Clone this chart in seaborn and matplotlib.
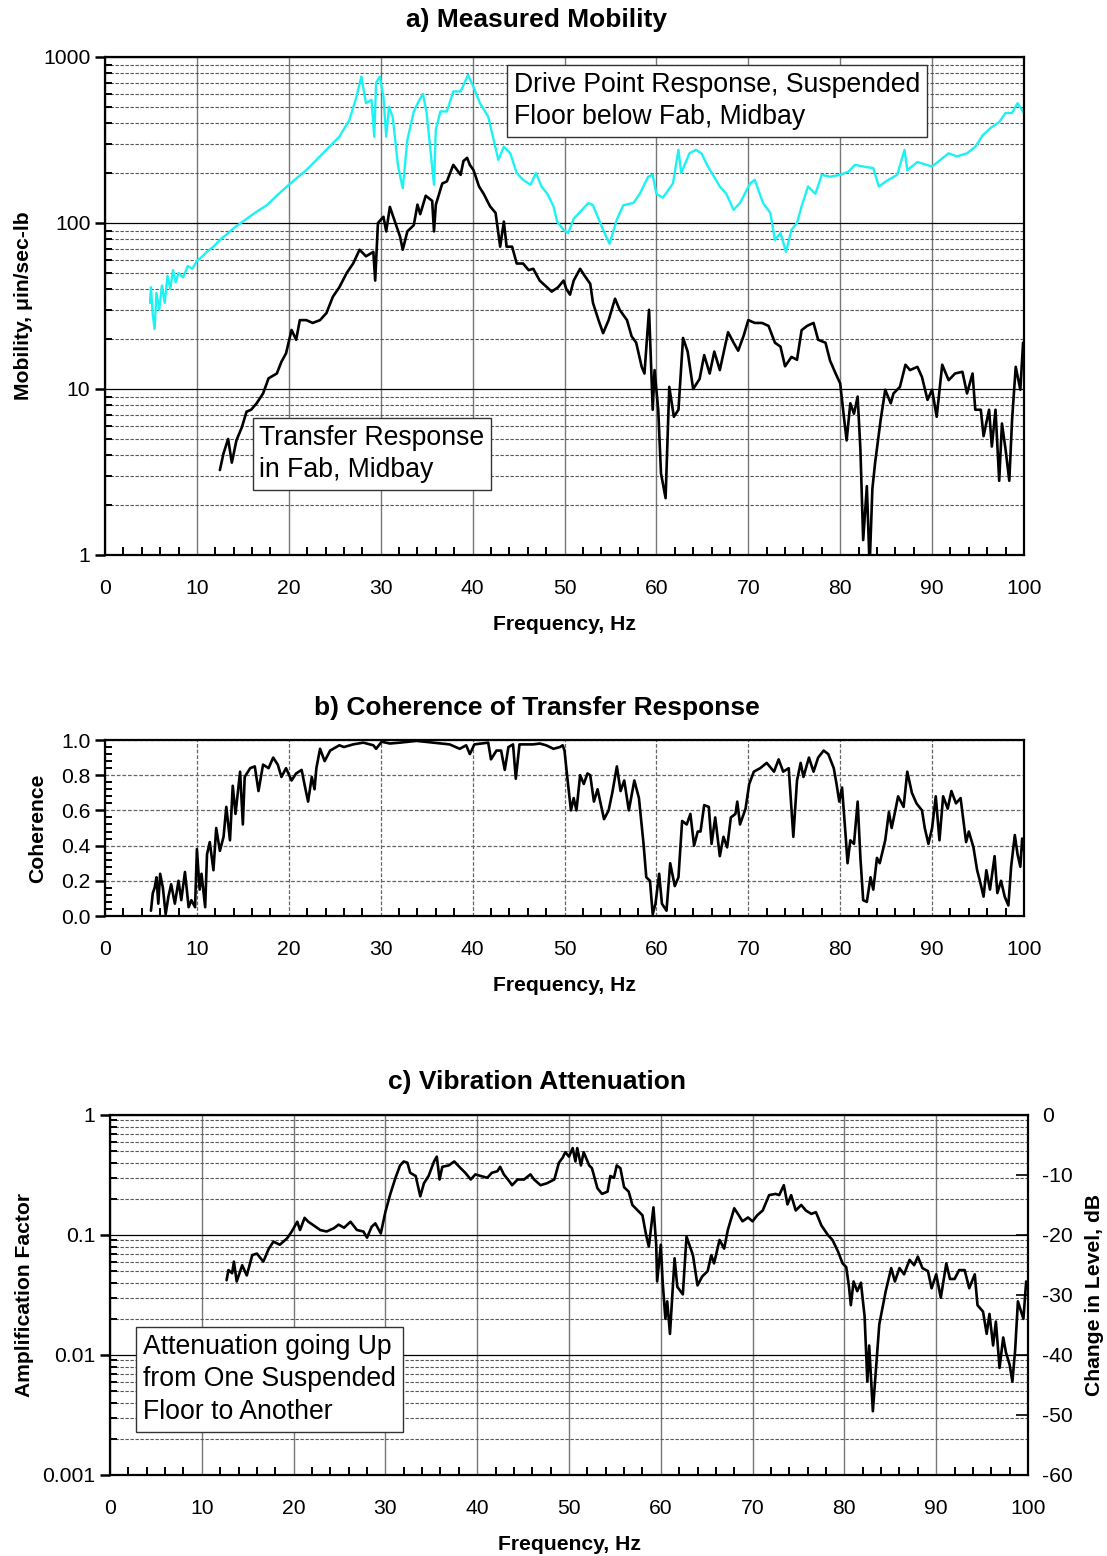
import numpy as np
import pandas as pd
import matplotlib
matplotlib.use("Agg")
import matplotlib.pyplot as plt
import seaborn as sns
from matplotlib.ticker import FixedLocator, MultipleLocator, LogLocator, NullFormatter

# ---------------- data ----------------
drive_f = [4.9, 5.0, 5.2, 5.4, 5.6, 5.9, 6.2, 6.5, 6.8, 7.1, 7.4, 7.7, 8.0, 8.5, 9.0, 9.5, 10.0,
           10.6, 11.2, 11.8, 12.5, 13.3, 14.1, 15.0, 16.3, 17.6, 18.8, 20.0, 21.9, 24.1, 25.5,
           26.6, 27.3, 27.9, 28.4, 29.0, 29.3, 29.5, 29.9, 30.3, 30.6, 30.9, 31.3, 31.9, 32.4,
           32.9, 33.6, 34.1, 34.6, 35.0, 35.8, 36.0, 36.5, 37.2, 37.9, 38.7, 39.5, 40.1, 40.8,
           41.7, 42.3, 42.8, 43.4, 44.1, 44.8, 45.5, 46.3, 46.9, 47.5, 48.2, 48.8, 49.2, 49.9,
           50.4, 51.0, 51.9, 52.6, 53.1, 53.7, 54.2, 54.9, 55.7, 56.4, 57.5, 58.2, 59.1, 59.6,
           60.0, 60.7, 61.8, 62.4, 62.7, 63.6, 64.3, 64.9, 65.6, 66.9, 67.6, 68.4, 69.1, 70.2,
           70.7, 71.6, 72.4, 72.9, 73.5, 74.1, 74.7, 75.3, 75.8, 76.5, 77.3, 78.0, 78.9, 80.0,
           80.9, 81.6, 82.5, 83.6, 84.2, 85.1, 86.2, 87.0, 87.3, 88.4, 90.0, 90.9, 91.8, 92.7,
           93.8, 94.7, 95.5, 96.4, 97.3, 98.0, 98.7, 99.3, 100.0]
drive_v = [33, 41, 28, 23, 38, 30, 42, 33, 48, 40, 52, 44, 50, 47, 55, 53, 59,
           63, 68, 72, 79, 86, 94, 102, 115, 128, 148, 170, 208, 276, 331,
           418, 560, 762, 527, 552, 331, 700, 762, 576, 331, 500, 437, 218, 162,
           316, 470, 537, 600, 460, 170, 365, 470, 470, 620, 620, 780, 660, 527,
           437, 316, 240, 288, 263, 200, 182, 170, 200, 166, 148, 126, 102, 91,
           87, 106, 120, 132, 128, 106, 91, 75, 105, 128, 132, 150, 190, 195,
           150, 142, 173, 276, 200, 263, 276, 263, 219, 166, 150, 120, 132, 173,
           182, 132, 115, 79, 87, 67, 91, 100, 126, 166, 150, 195, 190, 195,
           204, 224, 219, 214, 166, 180, 195, 276, 208, 233, 219, 240, 263, 252,
           263, 288, 337, 375, 405, 460, 460, 527, 460]

transfer_f = [12.5, 12.9, 13.4, 13.8, 14.3, 14.9, 15.4, 15.9, 16.5, 17.2, 17.8, 18.7, 19.2, 19.7,
              20.3, 20.8, 21.2, 21.9, 22.6, 23.4, 24.1, 24.8, 25.5, 26.3, 27.0, 27.7, 28.4, 29.2,
              29.4, 29.7, 30.3, 30.6, 31.0, 31.6, 32.1, 32.4, 32.9, 33.6, 34.0, 34.3, 34.9, 35.6,
              35.8, 36.0, 36.7, 37.2, 37.9, 38.7, 39.0, 39.4, 39.7, 40.1, 40.7, 41.2, 41.9, 42.5,
              43.0, 43.4, 43.7, 44.3, 44.8, 45.5, 46.1, 46.6, 47.3, 48.1, 48.6, 49.3, 49.9, 50.2,
              50.6, 51.0, 51.7, 52.2, 52.8, 53.1, 53.7, 54.2, 54.8, 55.5, 56.0, 56.8, 57.3, 57.8,
              58.4, 58.7, 59.2, 59.6, 59.8, 60.2, 60.5, 61.0, 61.4, 61.9, 62.4, 62.9, 63.4, 64.0,
              64.7, 65.2, 65.8, 66.3, 66.9, 67.8, 68.4, 68.9, 69.5, 70.0, 70.7, 71.5, 72.2, 72.9,
              73.5, 74.0, 74.7, 75.3, 75.8, 76.4, 77.1, 77.6, 78.4, 78.9, 79.5, 80.0, 80.4, 80.7,
              81.1, 81.5, 81.9, 82.2, 82.5, 82.9, 83.2, 83.5, 83.8, 84.4, 84.9, 85.5, 85.8, 86.5,
              87.1, 87.6, 88.4, 88.9, 89.5, 90.0, 90.5, 91.1, 91.8, 92.5, 93.3, 93.8, 94.4, 94.7,
              95.3, 95.6, 96.2, 96.5, 96.9, 97.3, 97.6, 98.0, 98.4, 98.7, 99.1, 99.6, 99.9]
transfer_v = [3.25, 4.1, 5.0, 3.6, 4.9, 5.9, 7.3, 7.5, 8.2, 9.4, 11.6, 12.4, 14.6, 16.4,
              22.7, 19.8, 26, 26, 25, 26, 28.7, 36, 41, 50, 57, 69, 63, 67,
              45, 100, 109, 89, 125, 100, 83, 69, 89, 97, 129, 113, 146, 136,
              89, 129, 173, 178, 224, 195, 236, 247, 224, 208, 166, 150, 126, 115,
              72, 102, 72, 72, 57, 57, 52, 53, 45, 41, 38.6, 41, 45, 40,
              37, 45, 53, 48, 43, 33, 26, 21.7, 26, 35, 30, 26, 20.8, 19,
              13.6, 12.4, 30, 7.5, 13, 7.5, 3.1, 2.2, 10.3, 6.8, 7.5, 20.3, 16.8, 10,
              11.5, 16, 12.4, 16.8, 13, 22, 19, 17, 21, 26, 25, 25, 24, 19,
              18, 13.7, 15.6, 15, 22.6, 24, 25, 19.8, 19, 14.8, 12.4, 10.8, 6.8, 4.9,
              8.2, 7.1, 9, 4.3, 1.23, 2.6, 0.85, 2.5, 3.6, 6.5, 9.9, 8.2, 9.4, 10.3,
              14, 13, 13.6, 11.8, 8.6, 9.9, 6.8, 14, 11.3, 12.4, 12.7, 9.4, 12.4, 7.5,
              7.5, 5.2, 7.5, 4.5, 7.5, 2.8, 6.2, 4.3, 2.8, 6.5, 13.6, 9.9, 19]

coh_f = [5.0, 5.2, 5.4, 5.6, 5.8, 6.0, 6.3, 6.6, 6.9, 7.2, 7.6, 8.0, 8.3, 8.7, 9.1, 9.4, 9.8,
         10.0, 10.3, 10.5, 10.9, 11.1, 11.4, 11.8, 12.1, 12.5, 12.9, 13.2, 13.6, 13.9, 14.2,
         14.7, 15.0, 15.2, 15.8, 16.3, 16.7, 17.2, 17.8, 18.3, 18.8, 19.2, 19.7, 20.3, 20.8,
         21.4, 21.7, 22.1, 22.5, 22.8, 23.0, 23.4, 23.9, 24.5, 25.5, 26.0, 27.0, 28.1, 29.2,
         29.5, 30.1, 31.0, 32.1, 33.9, 34.8, 35.7, 36.5, 37.5, 38.6, 39.3, 39.7, 40.2, 41.7,
         42.0, 42.6, 43.1, 43.5, 43.9, 44.4, 44.7, 45.1, 46.6, 47.3, 48.0, 48.8, 49.5, 49.8,
         50.0, 50.3, 50.7, 51.0, 51.3, 51.7, 52.1, 52.5, 52.8, 53.2, 53.6, 54.3, 54.8, 55.2,
         55.7, 56.1, 56.5, 57.0, 57.6, 58.1, 58.6, 58.9, 59.3, 59.6, 59.9, 60.3, 60.6, 61.1,
         61.5, 62.0, 62.4, 62.8, 63.3, 63.7, 64.1, 64.5, 64.8, 65.2, 65.7, 66.0, 66.4, 66.9,
         67.3, 67.7, 68.1, 68.6, 68.8, 69.1, 69.7, 70.1, 70.6, 71.3, 72.0, 72.8, 73.3, 73.8,
         74.4, 74.9, 75.3, 75.7, 76.0, 76.6, 77.1, 77.6, 78.2, 78.7, 79.3, 79.6, 79.9, 80.2,
         80.6, 80.8, 81.1, 81.5, 81.9, 82.2, 82.5, 82.9, 83.3, 83.6, 84.0, 84.3, 84.9, 85.3,
         85.6, 86.0, 86.3, 86.9, 87.3, 87.8, 88.3, 88.9, 89.2, 89.6, 90.0, 90.4, 90.8, 91.2,
         91.7, 92.1, 92.6, 93.1, 93.7, 94.0, 94.5, 94.9, 95.2, 95.6, 95.9, 96.3, 96.8, 97.1,
         97.5, 97.9, 98.3, 98.6, 99.0, 99.3, 99.6, 99.8, 100.0]
coh_v = [0.03, 0.13, 0.16, 0.22, 0.07, 0.24, 0.16, 0.01, 0.11, 0.18, 0.07, 0.20, 0.09, 0.25, 0.05, 0.09, 0.05,
         0.38, 0.15, 0.24, 0.05, 0.35, 0.42, 0.26, 0.50, 0.37, 0.45, 0.62, 0.43, 0.74, 0.58,
         0.82, 0.52, 0.79, 0.84, 0.85, 0.71, 0.86, 0.84, 0.90, 0.86, 0.79, 0.84, 0.77, 0.81,
         0.83, 0.75, 0.65, 0.79, 0.72, 0.84, 0.95, 0.88, 0.94, 0.97, 0.96, 0.975, 0.985, 0.97,
         0.95, 0.99, 0.98, 0.985, 0.995, 0.99, 0.985, 0.98, 0.975, 0.95, 0.97, 0.92, 0.975, 0.985,
         0.89, 0.94, 0.94, 0.83, 0.96, 0.975, 0.78, 0.975, 0.975, 0.98, 0.97, 0.95, 0.96, 0.97,
         0.94, 0.79, 0.60, 0.67, 0.60, 0.80, 0.75, 0.81, 0.80, 0.65, 0.72, 0.55, 0.60, 0.70,
         0.85, 0.71, 0.77, 0.60, 0.77, 0.67, 0.41, 0.22, 0.20, 0.01, 0.07, 0.24, 0.07, 0.03,
         0.30, 0.17, 0.22, 0.54, 0.52, 0.58, 0.40, 0.48, 0.48, 0.63, 0.62, 0.41, 0.56, 0.34,
         0.45, 0.39, 0.56, 0.58, 0.65, 0.52, 0.61, 0.75, 0.82, 0.84, 0.87, 0.82, 0.89, 0.82,
         0.84, 0.45, 0.77, 0.87, 0.79, 0.90, 0.82, 0.90, 0.94, 0.92, 0.84, 0.75, 0.65, 0.73,
         0.45, 0.30, 0.43, 0.41, 0.65, 0.33, 0.09, 0.08, 0.22, 0.15, 0.33, 0.30, 0.43, 0.59,
         0.50, 0.60, 0.68, 0.62, 0.82, 0.70, 0.64, 0.60, 0.50, 0.41, 0.50, 0.68, 0.43, 0.68,
         0.61, 0.71, 0.64, 0.67, 0.42, 0.48, 0.39, 0.26, 0.20, 0.11, 0.26, 0.15, 0.34, 0.13,
         0.20, 0.11, 0.06, 0.28, 0.46, 0.35, 0.28, 0.44, 0.37]

atten_f = [12.7, 12.9, 13.3, 13.5, 13.8, 14.4, 14.9, 15.5, 16.0, 16.7, 17.3, 17.8, 18.5, 19.3,
           19.8, 20.4, 20.7, 21.2, 21.6, 22.2, 22.9, 23.6, 24.4, 24.9, 25.5, 26.2, 26.9, 27.6,
           28.0, 28.5, 28.9, 29.5, 30.0, 30.5, 31.1, 31.6, 32.0, 32.4, 32.7, 33.3, 33.8, 34.2,
           34.7, 35.3, 35.6, 35.9, 36.2, 36.9, 37.5, 38.2, 38.7, 39.3, 39.8, 40.4, 41.1, 41.6,
           42.2, 42.5, 42.9, 43.5, 43.8, 44.4, 45.1, 45.8, 46.2, 46.9, 47.6, 48.4, 48.9, 49.3,
           49.6, 50.0, 50.4, 50.7, 50.9, 51.3, 51.6, 52.2, 52.5, 53.1, 53.6, 54.2, 54.5, 54.9,
           55.2, 55.6, 56.0, 56.5, 56.9, 57.5, 58.0, 58.4, 58.7, 59.2, 59.5, 59.6, 60.0, 60.2,
           60.5, 60.7, 61.0, 61.5, 61.8, 62.4, 62.8, 63.5, 64.0, 64.5, 65.1, 65.5, 65.8, 66.4,
           66.9, 67.3, 68.0, 68.5, 68.9, 69.5, 70.0, 70.5, 71.1, 71.8, 72.5, 72.9, 73.4, 73.8,
           74.2, 74.7, 75.3, 75.8, 76.4, 76.9, 77.5, 78.2, 78.7, 79.3, 79.8, 80.2, 80.5, 80.7,
           81.0, 81.4, 81.8, 82.2, 82.5, 82.7, 83.1, 83.5, 83.8, 84.2, 84.5, 85.1, 85.5, 86.0,
           86.5, 87.1, 87.6, 88.0, 88.5, 89.1, 89.5, 90.0, 90.5, 91.1, 91.5, 92.0, 92.5, 93.1,
           93.6, 94.2, 94.5, 95.1, 95.5, 95.8, 96.2, 96.5, 96.9, 97.3, 97.6, 98.0, 98.3, 98.6,
           98.9, 99.5, 99.8]
atten_v = [0.042, 0.051, 0.048, 0.060, 0.041, 0.056, 0.046, 0.068, 0.070, 0.060, 0.077, 0.088, 0.083, 0.094,
           0.107, 0.129, 0.110, 0.139, 0.129, 0.120, 0.110, 0.107, 0.114, 0.122, 0.115, 0.129, 0.110, 0.107,
           0.095, 0.117, 0.125, 0.103, 0.156, 0.215, 0.30, 0.38, 0.41, 0.40, 0.33, 0.31, 0.21, 0.27,
           0.31, 0.41, 0.45, 0.29, 0.37, 0.38, 0.41, 0.36, 0.33, 0.29, 0.32, 0.31, 0.30, 0.33,
           0.34, 0.37, 0.32, 0.28, 0.26, 0.29, 0.29, 0.32, 0.29, 0.26, 0.27, 0.29, 0.40, 0.44,
           0.49, 0.45, 0.53, 0.41, 0.53, 0.38, 0.49, 0.38, 0.36, 0.245, 0.22, 0.23, 0.31, 0.30,
           0.38, 0.36, 0.25, 0.23, 0.178, 0.16, 0.146, 0.10, 0.08, 0.17, 0.083, 0.041, 0.083, 0.041,
           0.020, 0.028, 0.015, 0.064, 0.037, 0.032, 0.097, 0.068, 0.038, 0.045, 0.050, 0.068, 0.058, 0.091,
           0.077, 0.110, 0.167, 0.146, 0.130, 0.140, 0.130, 0.146, 0.160, 0.215, 0.220, 0.215, 0.260, 0.180,
           0.215, 0.160, 0.178, 0.160, 0.150, 0.155, 0.120, 0.100, 0.091, 0.073, 0.058, 0.054, 0.037, 0.026,
           0.041, 0.034, 0.040, 0.021, 0.006, 0.012, 0.0034, 0.0089, 0.018, 0.026, 0.034, 0.053, 0.041, 0.053,
           0.047, 0.062, 0.056, 0.066, 0.053, 0.050, 0.036, 0.047, 0.030, 0.058, 0.043, 0.043, 0.051, 0.051,
           0.036, 0.047, 0.026, 0.023, 0.015, 0.022, 0.012, 0.019, 0.0078, 0.014, 0.0105, 0.0083, 0.006, 0.011,
           0.028, 0.020, 0.041]

x_ticks = list(range(0, 101, 10))
mob_ticks = [1, 10, 100, 1000]
mob_labels = ["1", "10", "100", "1000"]
coh_ticks = [0.0, 0.2, 0.4, 0.6, 0.8, 1.0]
amp_ticks = [0.001, 0.01, 0.1, 1]
amp_labels = ["0.001", "0.01", "0.1", "1"]
db_ticks = [-60, -50, -40, -30, -20, -10, 0]

titles = ["a) Measured Mobility", "b) Coherence of Transfer Response", "c) Vibration Attenuation"]
drive_note = "Drive Point Response, Suspended\nFloor below Fab, Midbay"
transfer_note = "Transfer Response\nin Fab, Midbay"
atten_note = "Attenuation going Up\nfrom One Suspended\nFloor to Another"

# ---------------- style ----------------
sns.set_theme(style="white")
plt.rcParams['font.family'] = ['Liberation Sans', 'DejaVu Sans']
plt.rcParams['axes.linewidth'] = 1.6
plt.rcParams['axes.edgecolor'] = 'black'
plt.rcParams['text.color'] = 'black'
plt.rcParams['axes.labelcolor'] = 'black'
plt.rcParams['xtick.color'] = 'black'
plt.rcParams['ytick.color'] = 'black'

W, H = 1107, 1556
fig = plt.figure(figsize=(W / 100, H / 100), dpi=100)


def frame(l, t, r, b):
    return [l / W, 1 - b / H, (r - l) / W, (b - t) / H]


TICK = 15.2
LAB = 15.2
NOTE = 19.2
CYAN = '#1DF2F2'


def style_x(ax):
    ax.set_xlim(0, 100)
    ax.xaxis.set_major_locator(FixedLocator(x_ticks))
    ax.xaxis.set_minor_locator(MultipleLocator(2))
    ax.tick_params(axis='x', which='major', direction='inout', length=11, width=1.8,
                   labelsize=TICK, pad=12, colors='black')
    ax.tick_params(axis='x', which='minor', direction='in', length=6, width=1.4, bottom=True)
    ax.set_xlabel("Frequency, Hz", fontsize=LAB, fontweight='bold', labelpad=12)
    for s in ax.spines.values():
        s.set_color('black')
        s.set_linewidth(1.6)


def log_grid(ax):
    ax.grid(True, which='major', axis='y', color='black', lw=0.9, ls='-')
    ax.grid(True, which='minor', axis='y', color='#555555', lw=0.8, ls=(0, (3, 1.5)))
    ax.grid(True, which='major', axis='x', color='#777777', lw=1.0, ls='-')
    ax.set_axisbelow(True)


BOX = dict(boxstyle='square,pad=0.25', fc='white', ec='#333333', lw=1.0)

# ---------------- panel a ----------------
ax1 = fig.add_axes(frame(105, 57, 1024, 555))
df_d = pd.DataFrame({"f": drive_f, "v": drive_v})
df_t = pd.DataFrame({"f": transfer_f, "v": transfer_v})
sns.lineplot(data=df_d, x="f", y="v", ax=ax1, color=CYAN, lw=1.7, estimator=None, sort=False)
sns.lineplot(data=df_t, x="f", y="v", ax=ax1, color='black', lw=1.9, estimator=None, sort=False)
ax1.set_yscale('log')
ax1.set_ylim(1, 1000)
ax1.yaxis.set_major_locator(FixedLocator(mob_ticks))
ax1.set_yticklabels(mob_labels)
ax1.yaxis.set_minor_locator(LogLocator(base=10, subs=np.arange(2, 10)))
ax1.yaxis.set_minor_formatter(NullFormatter())
ax1.tick_params(axis='y', which='major', direction='out', length=7, width=1.8, labelsize=TICK, left=True)
ax1.tick_params(axis='y', which='minor', direction='in', length=5, width=1.4, left=True)
log_grid(ax1)
style_x(ax1)
ax1.set_ylabel("Mobility, μin/sec-lb", fontsize=LAB, fontweight='bold', labelpad=7)
ax1.text(0.445, 0.970, drive_note, transform=ax1.transAxes, fontsize=NOTE, va='top', ha='left',
         linespacing=1.3, bbox=BOX)
ax1.text(0.168, 0.262, transfer_note, transform=ax1.transAxes, fontsize=NOTE, va='top', ha='left',
         linespacing=1.33, bbox=BOX)

# ---------------- panel b ----------------
ax2 = fig.add_axes(frame(105, 740, 1024, 916))
df_c = pd.DataFrame({"f": coh_f, "v": coh_v})
sns.lineplot(data=df_c, x="f", y="v", ax=ax2, color='black', lw=1.9, estimator=None, sort=False)
ax2.set_ylim(0, 1.0)
ax2.yaxis.set_major_locator(FixedLocator(coh_ticks))
ax2.set_yticklabels([f"{t:.1f}" for t in coh_ticks])
ax2.yaxis.set_minor_locator(MultipleLocator(0.04))
ax2.tick_params(axis='y', which='major', direction='out', length=7, width=1.8, labelsize=TICK, left=True)
ax2.tick_params(axis='y', which='minor', direction='in', length=5, width=1.4, left=True)
ax2.grid(True, which='major', axis='both', color='#666666', lw=0.9, ls=(0, (3, 1.5)))
ax2.set_axisbelow(True)
style_x(ax2)
ax2.set_ylabel("Coherence", fontsize=LAB, fontweight='bold', labelpad=10)

# ---------------- panel c ----------------
ax3 = fig.add_axes(frame(110, 1115, 1028, 1475))
df_a = pd.DataFrame({"f": atten_f, "v": atten_v})
sns.lineplot(data=df_a, x="f", y="v", ax=ax3, color='black', lw=1.9, estimator=None, sort=False)
ax3.set_yscale('log')
ax3.set_ylim(0.001, 1)
ax3.yaxis.set_major_locator(FixedLocator(amp_ticks))
ax3.set_yticklabels(amp_labels)
ax3.yaxis.set_minor_locator(LogLocator(base=10, subs=np.arange(2, 10)))
ax3.yaxis.set_minor_formatter(NullFormatter())
ax3.tick_params(axis='y', which='major', direction='out', length=7, width=1.8, labelsize=TICK, left=True)
ax3.tick_params(axis='y', which='minor', direction='in', length=5, width=1.4, left=True)
log_grid(ax3)
style_x(ax3)
ax3.set_ylabel("Amplification Factor", fontsize=LAB, fontweight='bold', labelpad=6)
ax3.text(0.036, 0.392, atten_note, transform=ax3.transAxes, fontsize=NOTE, va='top', ha='left',
         linespacing=1.33, bbox=BOX)

ax3r = ax3.twinx()
ax3r.set_ylim(-60, 0)
ax3r.yaxis.set_major_locator(FixedLocator(db_ticks))
ax3r.set_yticklabels([str(t) for t in db_ticks])
ax3r.tick_params(axis='y', which='major', direction='in', length=9, width=1.2, labelsize=TICK,
                 right=True, pad=10)
ax3r.grid(False)
for s in ax3r.spines.values():
    s.set_visible(False)
ax3r.set_ylabel("Change in Level, dB", fontsize=LAB, fontweight='bold', labelpad=9)

# ---------------- titles ----------------
for txt, ypx in zip(titles, [20, 708, 1082]):
    fig.text(537 / W, 1 - ypx / H, txt, ha='center', va='center', fontsize=19, fontweight='bold')

fig.savefig("out.png", dpi=100, facecolor='white')
